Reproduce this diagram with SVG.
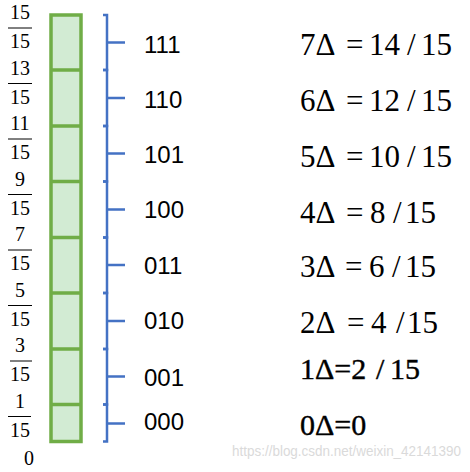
<svg xmlns="http://www.w3.org/2000/svg" width="470" height="472" viewBox="0 0 470 472">
<defs>
<style>
.bar{stroke:#000;stroke-width:1}
.brace{fill:none;stroke:#4472C4;stroke-width:2.5}
.cell{fill:#D2EBD3;stroke:#70AD47;stroke-width:3.5}
</style>
</defs>
<rect width="470" height="472" fill="#fff"/>

<g id="column">
<rect class="cell" x="51" y="15" width="30" height="426.5"/>
<path d="M51,70H81M51,126H81M51,181.5H81M51,237.5H81M51,293H81M51,349H81M51,404.5H81" stroke="#70AD47" stroke-width="3.5" fill="none"/>
</g>

<g id="scale-labels" font-family="'Liberation Serif', 'Times New Roman', serif" font-size="20" fill="#000" text-anchor="middle">
<text x="20" y="19">15</text><line class="bar" x1="8" y1="28" x2="32" y2="28"/><text x="20" y="48">15</text>
<text x="20" y="74.5">13</text><line class="bar" x1="8" y1="83.5" x2="32" y2="83.5"/><text x="20" y="103.5">15</text>
<text x="20" y="130">11</text><line class="bar" x1="8" y1="139" x2="32" y2="139"/><text x="20" y="159">15</text>
<text x="20" y="185.5">9</text><line class="bar" x1="8" y1="194.5" x2="32" y2="194.5"/><text x="20" y="214.5">15</text>
<text x="20" y="241">7</text><line class="bar" x1="8" y1="250" x2="32" y2="250"/><text x="20" y="270">15</text>
<text x="20" y="296.5">5</text><line class="bar" x1="8" y1="305.5" x2="32" y2="305.5"/><text x="20" y="325.5">15</text>
<text x="20" y="352">3</text><line class="bar" x1="10" y1="361" x2="32" y2="361"/><text x="20" y="381">15</text>
<text x="20" y="407.5">1</text><line class="bar" x1="8" y1="416.5" x2="31" y2="416.5"/><text x="20" y="436.5">15</text>
<text x="29" y="465">0</text>
</g>

<g id="connectors">
<path class="brace" d="M103,15H107V70H103M107,42.5H125"/>
<path class="brace" d="M103,70H107V126H103M107,98H125"/>
<path class="brace" d="M103,126H107V181.5H103M107,153.5H125"/>
<path class="brace" d="M103,181.5H107V237.5H103M107,209.5H125"/>
<path class="brace" d="M103,237.5H107V293H103M107,265H125"/>
<path class="brace" d="M103,293H107V349H103M107,321H125"/>
<path class="brace" d="M103,349H107V404.5H103M107,376.5H125"/>
<path class="brace" d="M103,404.5H107V441.5H103M107,423.5H125"/>
</g>

<g id="codes" font-family="'Liberation Sans', Arial, sans-serif" font-size="24" fill="#000">
<text id="code-111" x="144" y="52.5">111</text>
<text id="code-110" x="144" y="107.5">110</text>
<text id="code-101" x="144" y="162.5">101</text>
<text id="code-100" x="144" y="217.5">100</text>
<text id="code-011" x="144" y="273.5">011</text>
<text id="code-010" x="144" y="328.5">010</text>
<text id="code-001" x="144" y="385.5">001</text>
<text id="code-000" x="144" y="429.5">000</text>
</g>

<g id="values" font-family="'Liberation Serif', 'Times New Roman', serif" font-size="31" fill="#000">
<text id="val-7" y="55"><tspan x="300">7Δ</tspan><tspan x="346">=</tspan><tspan x="369">14</tspan><tspan x="407">/</tspan><tspan x="421">15</tspan></text>
<text id="val-6" y="111"><tspan x="300">6Δ</tspan><tspan x="346">=</tspan><tspan x="369">12</tspan><tspan x="407">/</tspan><tspan x="421">15</tspan></text>
<text id="val-5" y="166.5"><tspan x="300">5Δ</tspan><tspan x="346">=</tspan><tspan x="369">10</tspan><tspan x="407">/</tspan><tspan x="421">15</tspan></text>
<text id="val-4" y="222.5"><tspan x="300">4Δ</tspan><tspan x="346">=</tspan><tspan x="370">8</tspan><tspan x="393">/</tspan><tspan x="405">15</tspan></text>
<text id="val-3" y="276.5"><tspan x="300">3Δ</tspan><tspan x="345">=</tspan><tspan x="369">6</tspan><tspan x="392">/</tspan><tspan x="405">15</tspan></text>
<text id="val-2" y="333"><tspan x="300">2Δ</tspan><tspan x="347">=</tspan><tspan x="371">4</tspan><tspan x="396">/</tspan><tspan x="407">15</tspan></text>
<text id="val-1" y="379" font-size="30" stroke="#000" stroke-width="0.4"><tspan x="300">1Δ=2</tspan><tspan x="376">/</tspan><tspan x="390">15</tspan></text>
<text id="val-0" y="435" font-size="30" stroke="#000" stroke-width="0.4"><tspan x="300">0Δ=0</tspan></text>
</g>

<text x="232" y="456" font-family="'Liberation Sans', Arial, sans-serif" font-size="14" fill="#DADADA" textLength="229" lengthAdjust="spacingAndGlyphs">https://blog.csdn.net/weixin_42141390</text>
</svg>
